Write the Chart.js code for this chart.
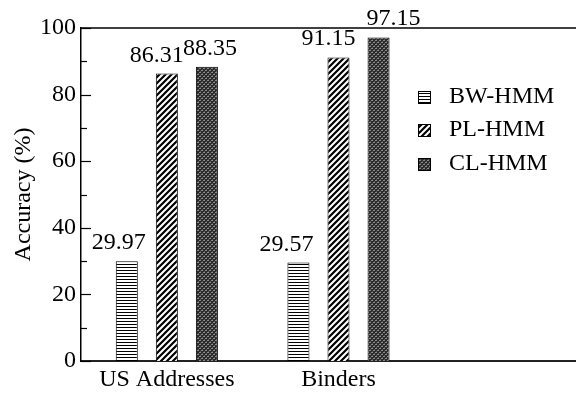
<!DOCTYPE html>
<html><head><meta charset="utf-8">
<script src="https://cdn.jsdelivr.net/npm/chart.js@4/dist/chart.umd.min.js"></script>
<style>
html,body{margin:0;padding:0;background:#fff;overflow:hidden;width:576px;height:394px;}
#wrap{position:absolute;left:0;top:0;width:597px;height:394px;}
</style></head>
<body><div id="wrap"><canvas id="c" width="597" height="394"></canvas></div>
<script>
const categories = ['US Addresses', 'Binders', ''];
const seriesNames = ['BW-HMM', 'PL-HMM', 'CL-HMM'];
const bwHmm = [29.97, 29.57];
const plHmm = [86.31, 91.15];
const clHmm = [88.35, 97.15];
const yTicks = [0, 20, 40, 60, 80, 100];

const FONT = '"Liberation Serif", "Times New Roman", serif';
const FS = 24;

function makePattern(kind) {
  const c = document.createElement('canvas');
  const x = c.getContext('2d');
  if (kind === 'h') {
    c.width = 3; c.height = 3;
    x.fillStyle = '#fff'; x.fillRect(0,0,3,3);
    x.fillStyle = '#000'; x.fillRect(0,0,3,1);
  } else if (kind === 'd') {
    c.width = 6; c.height = 6;
    x.fillStyle = '#fff'; x.fillRect(0,0,6,6);
    x.strokeStyle = '#000'; x.lineWidth = 2.2;
    x.beginPath();
    for (let k = -1; k <= 1; k++) {
      x.moveTo(-1 + k*6, 7); x.lineTo(7 + k*6, -1);
    }
    x.stroke();
  } else {
    c.width = 4; c.height = 4;
    x.fillStyle = '#2b2b2b'; x.fillRect(0,0,4,4);
    x.fillStyle = '#8a8a8a';
    x.fillRect(0,0,1,1); x.fillRect(2,2,1,1); x.fillRect(3,0,1,1); x.fillRect(1,2,1,1);
    x.fillStyle = '#555';
    x.fillRect(0,3,1,1); x.fillRect(2,1,1,1);
  }
  return x.createPattern(c, 'repeat');
}

const ctx = document.getElementById('c').getContext('2d');
const patterns = [makePattern('h'), makePattern('d'), makePattern('c')];

const labelPlugin = {
  id: 'extras',
  afterDatasetsDraw(chart) {
    const c = chart.ctx;
    const area = chart.chartArea;
    const y = chart.scales.y;
    c.save();
    c.strokeStyle = '#000'; c.lineWidth = 1.5;
    c.beginPath(); c.moveTo(area.left, area.top); c.lineTo(area.right, area.top); c.stroke();
    c.lineWidth = 1.2;
    for (let v = 0; v <= 100; v += 10) {
      const py = Math.round(y.getPixelForValue(v)) + 0.5;
      const len = (v % 20 === 0) ? 10 : 6;
      c.beginPath(); c.moveTo(area.left, py); c.lineTo(area.left + len, py); c.stroke();
    }
    c.fillStyle = '#000';
    c.font = FS + 'px ' + FONT;
    c.textAlign = 'center'; c.textBaseline = 'alphabetic';
    chart.data.datasets.forEach((ds, di) => {
      const meta = chart.getDatasetMeta(di);
      meta.data.forEach((bar, i) => {
        c.fillText(ds.data[i].toFixed(2), bar.x + ds.labelDx[i], bar.y - 12);
      });
    });
    const rows = [97, 130, 164];
    chart.data.datasets.forEach((ds, di) => {
      const cy = rows[di];
      c.fillStyle = ds.backgroundColor;
      c.fillRect(418, cy - 6, 13, 13);
      c.strokeStyle = '#000'; c.lineWidth = 1;
      c.strokeRect(418.5, cy - 5.5, 12, 12);
      c.fillStyle = '#000';
      c.textAlign = 'left'; c.textBaseline = 'middle';
      c.fillText(ds.label, 449, cy);
    });
    c.restore();
  }
};

new Chart(ctx, {
  type: 'bar',
  data: {
    labels: categories,
    datasets: [
      { label: seriesNames[0], data: bwHmm, backgroundColor: patterns[0], borderColor: '#000', borderWidth: 1, labelDx: [-8, -12] },
      { label: seriesNames[1], data: plHmm, backgroundColor: patterns[1], borderColor: '#000', borderWidth: 1, labelDx: [-10, -10] },
      { label: seriesNames[2], data: clHmm, backgroundColor: patterns[2], borderColor: '#000', borderWidth: 1, labelDx: [3, 15] }
    ]
  },
  options: {
    responsive: false,
    animation: false,
    devicePixelRatio: 1,
    layout: { padding: { top: 28, right: 1, left: 0, bottom: 0 } },
    datasets: { bar: { categoryPercentage: 0.70, barPercentage: 0.55 } },
    plugins: { legend: { display: false }, tooltip: { enabled: false } },
    scales: {
      x: {
        grid: { display: false, drawTicks: false },
        border: { display: true, color: '#222', width: 2 },
        ticks: { color: '#000', font: { family: FONT, size: FS }, padding: 4, maxRotation: 0 },
        afterFit(s) { s.height = 33; }
      },
      y: {
        min: 0, max: 100,
        afterBuildTicks(s) { s.ticks = yTicks.map(v => ({ value: v })); },
        grid: { display: false, drawTicks: false },
        border: { display: true, color: '#000', width: 1.5 },
        ticks: { color: '#000', font: { family: FONT, size: FS }, padding: 5 },
        title: { display: true, text: 'Accuracy (%)', color: '#000', font: { family: FONT, size: FS }, padding: { top: 9, bottom: 0 } },
        afterFit(s) { s.width = 81; }
      }
    }
  },
  plugins: [labelPlugin]
});
</script>
</body></html>
